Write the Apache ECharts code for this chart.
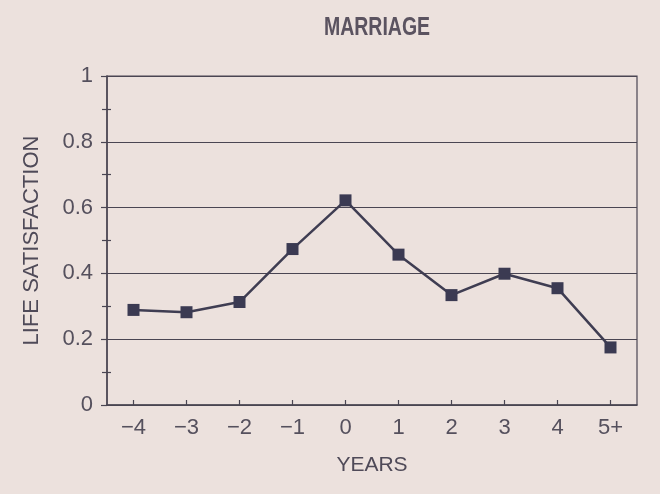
<!DOCTYPE html>
<html>
<head>
<meta charset="utf-8">
<title>Marriage</title>
<script src="https://cdn.jsdelivr.net/npm/echarts@6/dist/echarts.min.js"></script>
<style>
  html, body { margin: 0; padding: 0; background: #ece1dd; }
  #main { width: 660px; height: 494px; }
</style>
</head>
<body>
<div id="main"></div>
<script>
// years relative to marriage, and life satisfaction
var years = ["\u22124", "\u22123", "\u22122", "\u22121", "0", "1", "2", "3", "4", "5+"];
var satisfaction = [0.289, 0.282, 0.313, 0.474, 0.622, 0.457, 0.334, 0.399, 0.355, 0.175];

var ink = "#4a4552";
var labelColor = "#55505d";
var myChart = echarts.init(document.getElementById("main"));

myChart.setOption({
  backgroundColor: "#ece1dd",
  // condensed bold heading: squeeze a normal bold face horizontally
  graphic: [{
    type: "text",
    x: 377,
    y: 28,
    scaleX: 0.78,
    style: {
      text: "MARRIAGE",
      font: "bold 25px 'Liberation Sans'",
      fill: "#5b5360",
      align: "center",
      verticalAlign: "middle"
    }
  }],
  grid: {
    left: 107,
    right: 23,
    top: 76,
    bottom: 89,
    show: true,
    borderColor: ink,
    borderWidth: 1.2
  },
  xAxis: [{
    type: "category",
    data: years,
    name: "YEARS",
    nameLocation: "middle",
    nameGap: 50,
    nameTextStyle: { fontFamily: "Liberation Sans", fontSize: 21, color: "#4f4a58" },
    axisLine: { lineStyle: { color: ink, width: 1.5 } },
    axisTick: { alignWithLabel: true, length: 5, lineStyle: { color: ink, width: 1.2 } },
    axisLabel: { margin: 12, fontFamily: "Liberation Sans", fontSize: 22, color: labelColor },
    splitLine: { show: false }
  }, {
    // second copy only to draw the inner half of the crossing ticks
    type: "category",
    data: years,
    position: "bottom",
    axisLine: { show: false },
    axisTick: { show: true, alignWithLabel: true, inside: true, length: 5, lineStyle: { color: ink, width: 1.2 } },
    axisLabel: { show: false },
    splitLine: { show: false }
  }],
  yAxis: [{
    type: "value",
    min: 0,
    max: 1,
    interval: 0.2,
    name: "LIFE SATISFACTION",
    nameLocation: "middle",
    nameGap: 64,
    nameTextStyle: { fontFamily: "Liberation Sans", fontSize: 22, color: "#4f4a58" },
    axisLine: { show: true, lineStyle: { color: ink, width: 1.5 } },
    axisTick: { show: true, length: 6, lineStyle: { color: ink, width: 1.2 } },
    minorTick: { show: true, splitNumber: 2, length: 5, lineStyle: { color: ink, width: 1.2 } },
    axisLabel: {
      margin: 14,
      fontFamily: "Liberation Sans",
      fontSize: 22,
      color: labelColor,
      formatter: function (v) { return v === 0 || v === 1 ? String(v) : v.toFixed(1); }
    },
    splitLine: { show: true, lineStyle: { color: ink, width: 1.2 } }
  }, {
    type: "value",
    min: 0,
    max: 1,
    interval: 0.2,
    position: "left",
    axisLine: { show: false },
    axisTick: { show: true, inside: true, length: 1, lineStyle: { color: ink, width: 1.2 } },
    minorTick: { show: true, splitNumber: 2, length: 4, lineStyle: { color: ink, width: 1.2 } },
    axisLabel: { show: false },
    splitLine: { show: false }
  }],
  series: [{
    type: "line",
    data: satisfaction,
    symbol: "rect",
    symbolSize: 12,
    itemStyle: { color: "#3b3a52" },
    lineStyle: { color: "#3f3d52", width: 2.5 },
    animation: false
  }]
});
</script>
</body>
</html>
